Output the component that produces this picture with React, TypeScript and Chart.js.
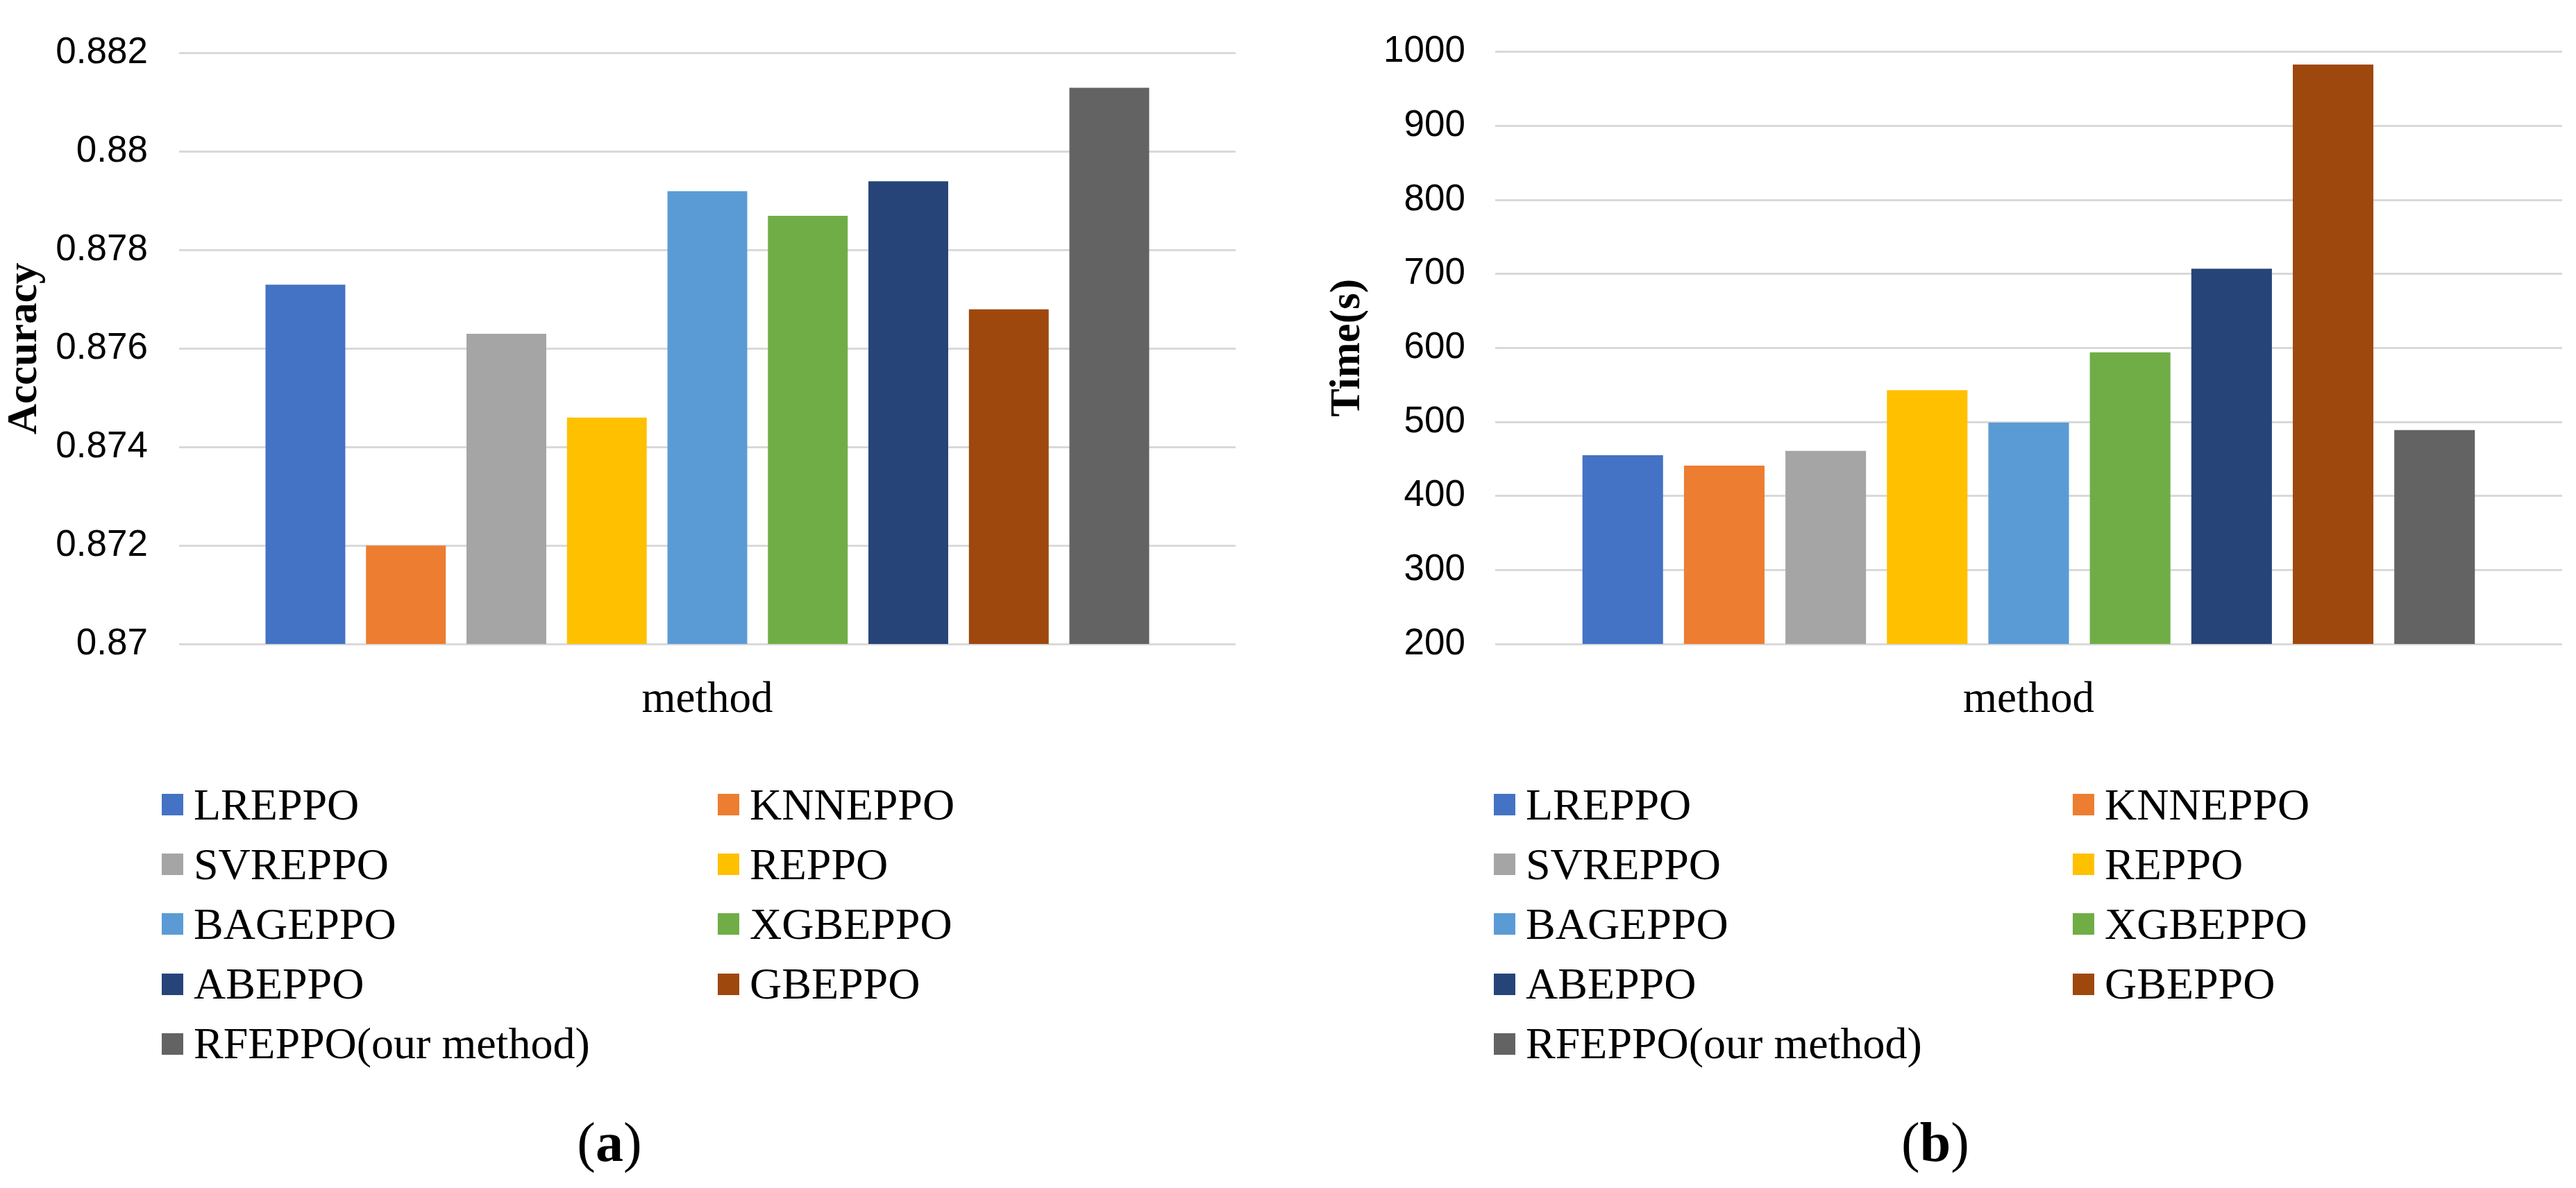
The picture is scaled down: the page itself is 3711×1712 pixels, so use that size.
import React, { useEffect, useRef } from 'react';
import { Chart, registerables } from 'chart.js';

Chart.register(...registerables);

// ---- data ----
const methods = [
  'LREPPO',
  'KNNEPPO',
  'SVREPPO',
  'REPPO',
  'BAGEPPO',
  'XGBEPPO',
  'ABEPPO',
  'GBEPPO',
  'RFEPPO(our method)',
];
const barColors = [
  '#4472C4',
  '#ED7D31',
  '#A5A5A5',
  '#FFC000',
  '#5B9BD5',
  '#70AD47',
  '#264478',
  '#9E480E',
  '#636363',
];
const categories = ['method'];
const accuracyValues = [0.8773, 0.872, 0.8763, 0.8746, 0.8792, 0.8787, 0.8794, 0.8768, 0.8813];
const timeValues = [455, 441, 461, 543, 499, 594, 707, 983, 489];
const accuracyAxis = { min: 0.87, max: 0.882, step: 0.002, decimals: 3 };
const timeAxis = { min: 200, max: 1000, step: 100, decimals: 0 };
const panelTitles = ['Accuracy', 'Time(s)'];
const captions = ['a', 'b'];

const CANVAS_H = 1060;
const PLOT_TOP = 60;
const PLOT_BOTTOM = 928;

type PanelProps = {
  left: number;
  width: number;
  yWidth: number;
  padRight: number;
  tickPad: number;
  values: number[];
  axis: { min: number; max: number; step: number; decimals: number };
  title: string;
};

function BarPanel({ left, width, yWidth, padRight, tickPad, values, axis, title }: PanelProps) {
  const ref = useRef<HTMLCanvasElement | null>(null);
  useEffect(() => {
    if (!ref.current) return;
    const chart = new Chart(ref.current, {
      type: 'bar',
      data: {
        labels: categories,
        datasets: methods.map((m, i) => ({
          label: m,
          data: [values[i]],
          backgroundColor: barColors[i],
          borderWidth: 0,
          categoryPercentage: 0.856,
          barPercentage: 0.794,
        })),
      },
      options: {
        responsive: false,
        animation: false,
        devicePixelRatio: 1,
        layout: { padding: { top: PLOT_TOP, bottom: 0, left: 0, right: padRight } },
        plugins: { legend: { display: false }, tooltip: { enabled: false } },
        scales: {
          x: {
            type: 'category',
            grid: { display: false },
            border: { display: false },
            ticks: {
              color: '#000',
              padding: 36,
              maxRotation: 0,
              font: { family: '"Liberation Serif", "Times New Roman", serif', size: 63 },
            },
            afterFit: (s: any) => {
              s.height = CANVAS_H - PLOT_BOTTOM;
            },
          },
          y: {
            type: 'linear',
            min: axis.min,
            max: axis.max,
            grid: { color: '#D9D9D9', lineWidth: 3, drawTicks: false },
            border: { display: false },
            ticks: {
              stepSize: axis.step,
              color: '#000',
              padding: tickPad,
              font: { family: '"Liberation Sans", Arial, sans-serif', size: 53 },
              callback: (v: any) => String(parseFloat(Number(v).toFixed(axis.decimals))),
            },
            title: {
              display: true,
              text: title,
              color: '#000',
              padding: { top: 0, bottom: 0 },
              font: { family: '"Liberation Serif", "Times New Roman", serif', size: 61, weight: 'bold' },
            },
            afterFit: (s: any) => {
              s.width = yWidth;
            },
          },
        },
      } as any,
    });
    return () => chart.destroy();
  }, []);
  return (
    <canvas
      ref={ref}
      width={width}
      height={CANVAS_H}
      style={{ position: 'absolute', left, top: 0, width, height: CANVAS_H }}
    />
  );
}

function Legend({ colLefts }: { colLefts: number[] }) {
  return (
    <>
      {methods.map((m, i) => {
        const row = Math.floor(i / 2);
        const col = i % 2;
        const cy = 1159.5 + row * 86.2;
        return (
          <div
            key={m}
            style={{
              position: 'absolute',
              left: colLefts[col],
              top: cy - 40,
              height: 80,
              display: 'flex',
              alignItems: 'center',
              whiteSpace: 'nowrap',
              fontFamily: '"Liberation Serif", "Times New Roman", serif',
              fontSize: 64,
              color: '#000',
            }}
          >
            <span
              style={{
                display: 'inline-block',
                width: 31,
                height: 31,
                background: barColors[i],
                marginRight: 15,
              }}
            />
            <span>{m}</span>
          </div>
        );
      })}
    </>
  );
}

function Caption({ cx, letter }: { cx: number; letter: string }) {
  return (
    <div
      style={{
        position: 'absolute',
        left: cx - 200,
        width: 400,
        top: 1606,
        textAlign: 'center',
        lineHeight: 1,
        fontFamily: '"Liberation Serif", "Times New Roman", serif',
        fontSize: 80,
        color: '#000',
      }}
    >
      (<b>{letter}</b>)
    </div>
  );
}

export default function App() {
  return (
    <div
      style={{
        position: 'absolute',
        left: 0,
        top: 0,
        width: 3711,
        height: 1712,
        background: '#fff',
        overflow: 'hidden',
      }}
    >
      <BarPanel
        left={0}
        width={1800}
        yWidth={258}
        padRight={20}
        tickPad={45}
        values={accuracyValues}
        axis={accuracyAxis}
        title={panelTitles[0]}
      />
      <BarPanel
        left={1906}
        width={1805}
        yWidth={248}
        padRight={20}
        tickPad={43}
        values={timeValues}
        axis={timeAxis}
        title={panelTitles[1]}
      />
      <Legend colLefts={[233, 1034]} />
      <Legend colLefts={[2152, 2986]} />
      <Caption cx={878} letter={captions[0]} />
      <Caption cx={2788} letter={captions[1]} />
    </div>
  );
}
